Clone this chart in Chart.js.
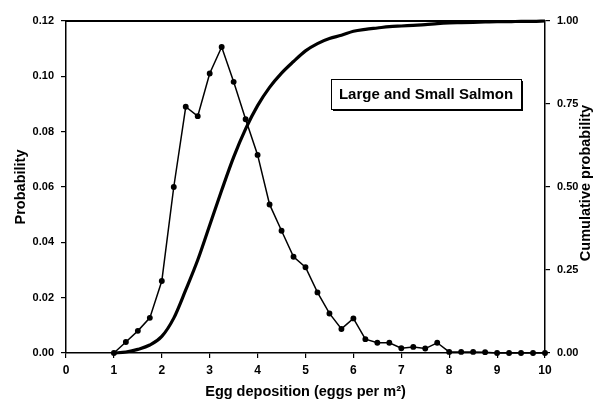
<!DOCTYPE html>
<html lang="en">

<head>
    <meta charset="UTF-8">
    <title>Egg deposition probability</title>
    <script src="https://cdn.jsdelivr.net/npm/chart.js"></script>
    <style>
        html, body { margin: 0; padding: 0; background: #fff; }
        #wrap { width: 598px; height: 404px; }
    </style>
</head>

<body>

    <div id="wrap">
        <canvas id="eggChart" width="598" height="404"></canvas>
    </div>

    <script>
        // Egg deposition (eggs per m2), one point every 0.25
        const eggs = [1, 1.25, 1.5, 1.75, 2, 2.25, 2.5, 2.75, 3, 3.25, 3.5, 3.75, 4, 4.25, 4.5, 4.75,
            5, 5.25, 5.5, 5.75, 6, 6.25, 6.5, 6.75, 7, 7.25, 7.5, 7.75, 8, 8.25, 8.5, 8.75,
            9, 9.25, 9.5, 9.75, 10];

        // Probability of each deposition class (left axis)
        const probability = [0, 0.004, 0.008, 0.0127, 0.026, 0.060, 0.089, 0.0856, 0.101, 0.1106, 0.098, 0.0845,
            0.0716, 0.0537, 0.0442, 0.0348, 0.031, 0.0219, 0.0143, 0.0087, 0.0125, 0.005, 0.0037, 0.0037,
            0.0017, 0.0022, 0.0016, 0.0037, 0.0004, 0.0004, 0.0004, 0.0003, 0, 0, 0, 0, 0];

        // Cumulative probability (right axis)
        const cumulative = [0, 0.003, 0.011, 0.024, 0.05, 0.105, 0.19, 0.28, 0.385, 0.49, 0.59, 0.675,
            0.745, 0.80, 0.843, 0.878, 0.91, 0.932, 0.947, 0.957, 0.969, 0.975, 0.979, 0.983,
            0.985, 0.987, 0.989, 0.992, 0.994, 0.995, 0.996, 0.997, 0.998, 0.998, 0.999, 0.999, 1.0];

        const boxLabel = 'Large and Small Salmon';
        const rightTitle = 'Cumulative probability';

        const FONT = "'Liberation Sans', Arial, sans-serif";

        // white page, top frame line, right-hand title and the label box
        const decorations = {
            id: 'decorations',
            beforeDraw(chart) {
                const c = chart.ctx;
                c.save();
                c.fillStyle = '#fff';
                c.fillRect(0, 0, chart.width, chart.height);
                c.restore();
            },
            afterDraw(chart) {
                const c = chart.ctx;
                const a = chart.chartArea;
                c.save();
                c.strokeStyle = '#000';
                c.lineWidth = 2;
                c.beginPath();
                c.moveTo(a.left, a.top);
                c.lineTo(a.right, a.top);
                c.stroke();

                // right axis title, reading bottom to top
                c.fillStyle = '#000';
                c.font = "bold 14.5px " + FONT;
                c.textAlign = 'center';
                c.textBaseline = 'middle';
                c.translate(586, (a.top + a.bottom) / 2 - 4);
                c.rotate(-Math.PI / 2);
                c.fillText(rightTitle, 0, 0);
                c.restore();

                // label box with a drop shadow
                const bx = 331, by = 79, bw = 190, bh = 30;
                c.save();
                c.fillStyle = '#000';
                c.fillRect(bx + 2, by + 2, bw, bh);
                c.fillStyle = '#fff';
                c.fillRect(bx, by, bw, bh);
                c.strokeStyle = '#000';
                c.lineWidth = 1;
                c.strokeRect(bx + 0.5, by + 0.5, bw, bh);
                c.fillStyle = '#000';
                c.font = "bold 15px " + FONT;
                c.textAlign = 'center';
                c.textBaseline = 'middle';
                c.fillText(boxLabel, bx + bw / 2, by + bh / 2 + 1);
                c.restore();
            }
        };

        const probPoints = eggs.map((x, i) => ({ x: x, y: probability[i] }));
        const cumPoints = eggs.map((x, i) => ({ x: x, y: cumulative[i] }));

        const axisBorder = { color: '#000', width: 1.5 };
        const axisGrid = { drawOnChartArea: false, drawTicks: true, tickLength: 5, color: '#000', lineWidth: 1.2 };

        new Chart(document.getElementById('eggChart').getContext('2d'), {
            type: 'line',
            data: {
                datasets: [{
                    label: 'Probability',
                    data: probPoints,
                    yAxisID: 'y',
                    borderColor: '#000',
                    backgroundColor: '#000',
                    borderWidth: 1.5,
                    pointRadius: 2.2,
                    pointStyle: 'circle',
                    tension: 0,
                    clip: false
                }, {
                    label: 'Cumulative probability',
                    data: cumPoints,
                    yAxisID: 'y1',
                    borderColor: '#000',
                    borderWidth: 3.2,
                    pointRadius: 0,
                    cubicInterpolationMode: 'monotone',
                    clip: false
                }]
            },
            options: {
                responsive: false,
                animation: false,
                layout: { padding: { top: 21, left: 0, right: 0, bottom: 0 } },
                plugins: {
                    legend: { display: false },
                    tooltip: { enabled: false }
                },
                scales: {
                    x: {
                        type: 'linear',
                        position: 'bottom',
                        min: 0,
                        max: 10,
                        ticks: {
                            stepSize: 1,
                            color: '#000',
                            padding: 5,
                            maxRotation: 0,
                            font: { family: FONT, size: 12, weight: 'bold' }
                        },
                        grid: axisGrid,
                        border: axisBorder,
                        title: {
                            display: true,
                            text: 'Egg deposition (eggs per m\u00b2)',
                            color: '#000',
                            padding: { top: 0, bottom: 3 },
                            font: { family: FONT, size: 14.5, weight: 'bold' }
                        },
                        afterFit(s) { s.height = 51; }
                    },
                    y: {
                        position: 'left',
                        min: 0,
                        max: 0.12,
                        ticks: {
                            stepSize: 0.02,
                            color: '#000',
                            padding: 7,
                            font: { family: FONT, size: 11, weight: 'bold' },
                            callback: v => v.toFixed(2)
                        },
                        grid: axisGrid,
                        border: axisBorder,
                        title: {
                            display: true,
                            text: 'Probability',
                            color: '#000',
                            padding: { top: 12, bottom: 0 },
                            font: { family: FONT, size: 14.5, weight: 'bold' }
                        },
                        afterFit(s) { s.width = 66; }
                    },
                    y1: {
                        position: 'right',
                        min: 0,
                        max: 1,
                        ticks: {
                            stepSize: 0.25,
                            color: '#000',
                            padding: 7,
                            font: { family: FONT, size: 11, weight: 'bold' },
                            callback: v => v.toFixed(2)
                        },
                        grid: axisGrid,
                        border: axisBorder,
                        afterFit(s) { s.width = 53; }
                    }
                }
            },
            plugins: [decorations]
        });
    </script>

</body>

</html>
